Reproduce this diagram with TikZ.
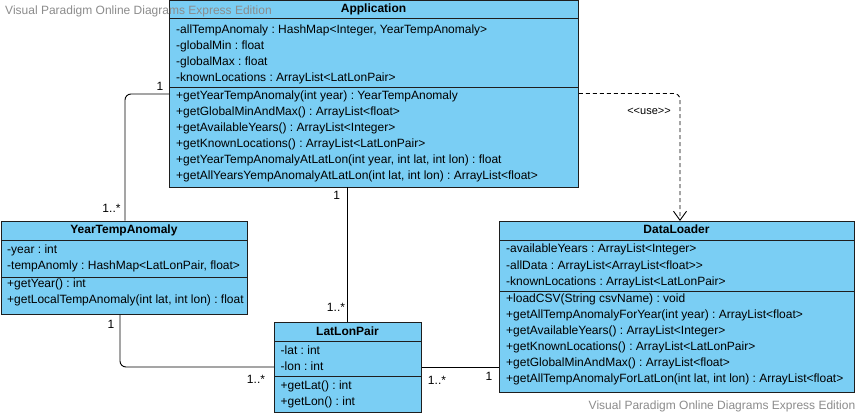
\documentclass[tikz,border=0pt]{standalone}
\usepackage{fontspec}
\setmainfont{Liberation Sans}[Ligatures=TeXOff]
\usetikzlibrary{arrows.meta}
\definecolor{clsfill}{RGB}{122,206,244}
\definecolor{wmgray}{RGB}{140,140,140}
\definecolor{edge}{RGB}{30,30,30}
\tikzset{
  classbox/.style={draw=edge, fill=clsfill, line width=0.9pt, inner sep=0pt, anchor=north west},
  divider/.style={draw=edge, line width=0.9pt},
  mem/.style={anchor=base west, inner sep=0pt, font=\fontsize{12}{14}\selectfont},
  ttl/.style={anchor=base, inner sep=0pt, font=\fontsize{12}{14}\selectfont\bfseries},
  mult/.style={inner sep=0pt, font=\fontsize{12}{14}\selectfont},
  assoc/.style={draw=black, line width=0.9pt, rounded corners=6pt},
  dep/.style={draw=black, line width=0.9pt, dash pattern=on 4pt off 3pt, rounded corners=6pt, -{Straight Barb[length=9pt,width=13pt]}},
  wmark/.style={inner sep=0pt, text=wmgray, font=\fontsize{12}{14}\selectfont},
}
\begin{document}
\frenchspacing
\begin{tikzpicture}[x=1pt,y=-1pt]
\useasboundingbox (0,0) rectangle (862,415);
\fill[white] (0,0) rectangle (862,415);

% ---------- Application ----------
\node[classbox, minimum width=409pt, minimum height=186pt] (app) at (169,0.5) {};
\draw[divider] (169,18.3) -- (578,18.3);
\draw[divider] (169,87.7) -- (578,87.7);
\node[ttl] (appT) at (373.5,12.9) {Application};
\foreach \t [count=\i] in {{-allTempAnomaly : HashMap<Integer, YearTempAnomaly>},{-globalMin : float},{-globalMax : float},{-knownLocations : ArrayList<LatLonPair>}}
  \node[mem] (appA\i) at (176,17.3+16*\i) {\t};
\foreach \t [count=\i] in {{+getYearTempAnomaly(int year) : YearTempAnomaly},{+getGlobalMinAndMax() : ArrayList<float>},{+getAvailableYears() : ArrayList<Integer>},{+getKnownLocations() : ArrayList<LatLonPair>},{+getYearTempAnomalyAtLatLon(int year, int lat, int lon) : float},{+getAllYearsYempAnomalyAtLatLon(int lat, int lon) : ArrayList<float>}}
  \node[mem] (appM\i) at (176,83.3+16*\i) {\t};

% ---------- YearTempAnomaly ----------
\node[classbox, minimum width=246.8pt, minimum height=93.3pt] (yta) at (0.5,220.7) {};
\draw[divider] (0.5,240.7) -- (247.3,240.7);
\draw[divider] (0.5,277) -- (247.3,277);
\node[ttl] (ytaT) at (123.9,233.3) {YearTempAnomaly};
\foreach \t [count=\i] in {{-year : int},{-tempAnomly : HashMap<LatLonPair, float>}}
  \node[mem] (ytaA\i) at (7,237.6+16*\i) {\t};
\foreach \t [count=\i] in {{+getYear() : int},{+getLocalTempAnomaly(int lat, int lon) : float}}
  \node[mem] (ytaM\i) at (7,271+16.3*\i) {\t};

% ---------- LatLonPair ----------
\node[classbox, minimum width=147pt, minimum height=89.4pt] (llp) at (274,322.3) {};
\draw[divider] (274,341.7) -- (421,341.7);
\draw[divider] (274,376.7) -- (421,376.7);
\node[ttl] (llpT) at (347.5,335.3) {LatLonPair};
\foreach \t [count=\i] in {{-lat : int},{-lon : int}}
  \node[mem] (llpA\i) at (280.5,337.8+16.5*\i) {\t};
\foreach \t [count=\i] in {{+getLat() : int},{+getLon() : int}}
  \node[mem] (llpM\i) at (280.5,373.3+16*\i) {\t};

% ---------- DataLoader ----------
\node[classbox, minimum width=355pt, minimum height=170.7pt] (dl) at (499,221) {};
\draw[divider] (499,240) -- (854,240);
\draw[divider] (499,291.7) -- (854,291.7);
\node[ttl] (dlT) at (676.5,233.3) {DataLoader};
\foreach \t [count=\i] in {{-availableYears : ArrayList<Integer>},{-allData : ArrayList<ArrayList<float>>},{-knownLocations : ArrayList<LatLonPair>}}
  \node[mem] (dlA\i) at (506,236.6+16.2*\i) {\t};
\foreach \t [count=\i] in {{+loadCSV(String csvName) : void},{+getAllTempAnomalyForYear(int year) : ArrayList<float>},{+getAvailableYears() : ArrayList<Integer>},{+getKnownLocations() : ArrayList<LatLonPair>},{+getGlobalMinAndMax() : ArrayList<float>},{+getAllTempAnomalyForLatLon(int lat, int lon) : ArrayList<float>}}
  \node[mem] (dlM\i) at (506,286.6+16*\i) {\t};

% ---------- connectors ----------
\coordinate (c1) at (125,94);
\coordinate (c3) at (120,367);
\coordinate (c5) at (680,93.5);
\draw[assoc] (app.west |- c1) -- (c1) -- (c1 |- yta.north);
\draw[assoc] (app.south -| 347.3,0) -- (llp.north -| 347.3,0);
\draw[assoc] (yta.south -| c3) -- (c3) -- (llp.west |- c3);
\draw[assoc] (llp.east |- c3) -- (dl.west |- c3);
\draw[dep] (app.east |- c5) -- (c5) -- (c5 |- dl.north);

% ---------- labels ----------
\node[mult] (m1) at (160,86) {1};
\node[mult] (m2) at (111.5,208) {1..*};
\node[mult] (m3) at (336.7,195.7) {1};
\node[mult] (m4) at (336,307) {1..*};
\node[mult] (m5) at (111,324) {1};
\node[mult] (m6) at (256,379) {1..*};
\node[mult] (m7) at (437,380) {1..*};
\node[mult] (m8) at (489,376.7) {1};
\node[inner sep=0pt, font=\fontsize{11}{13}\selectfont] (use) at (649,111) {<<use>>};

% ---------- watermarks ----------
\node[wmark] (wm1) at (138.5,11.7) {Visual Paradigm Online Diagrams Express Edition};
\node[wmark] (wm2) at (722,406.7) {Visual Paradigm Online Diagrams Express Edition};
\end{tikzpicture}
\end{document}
